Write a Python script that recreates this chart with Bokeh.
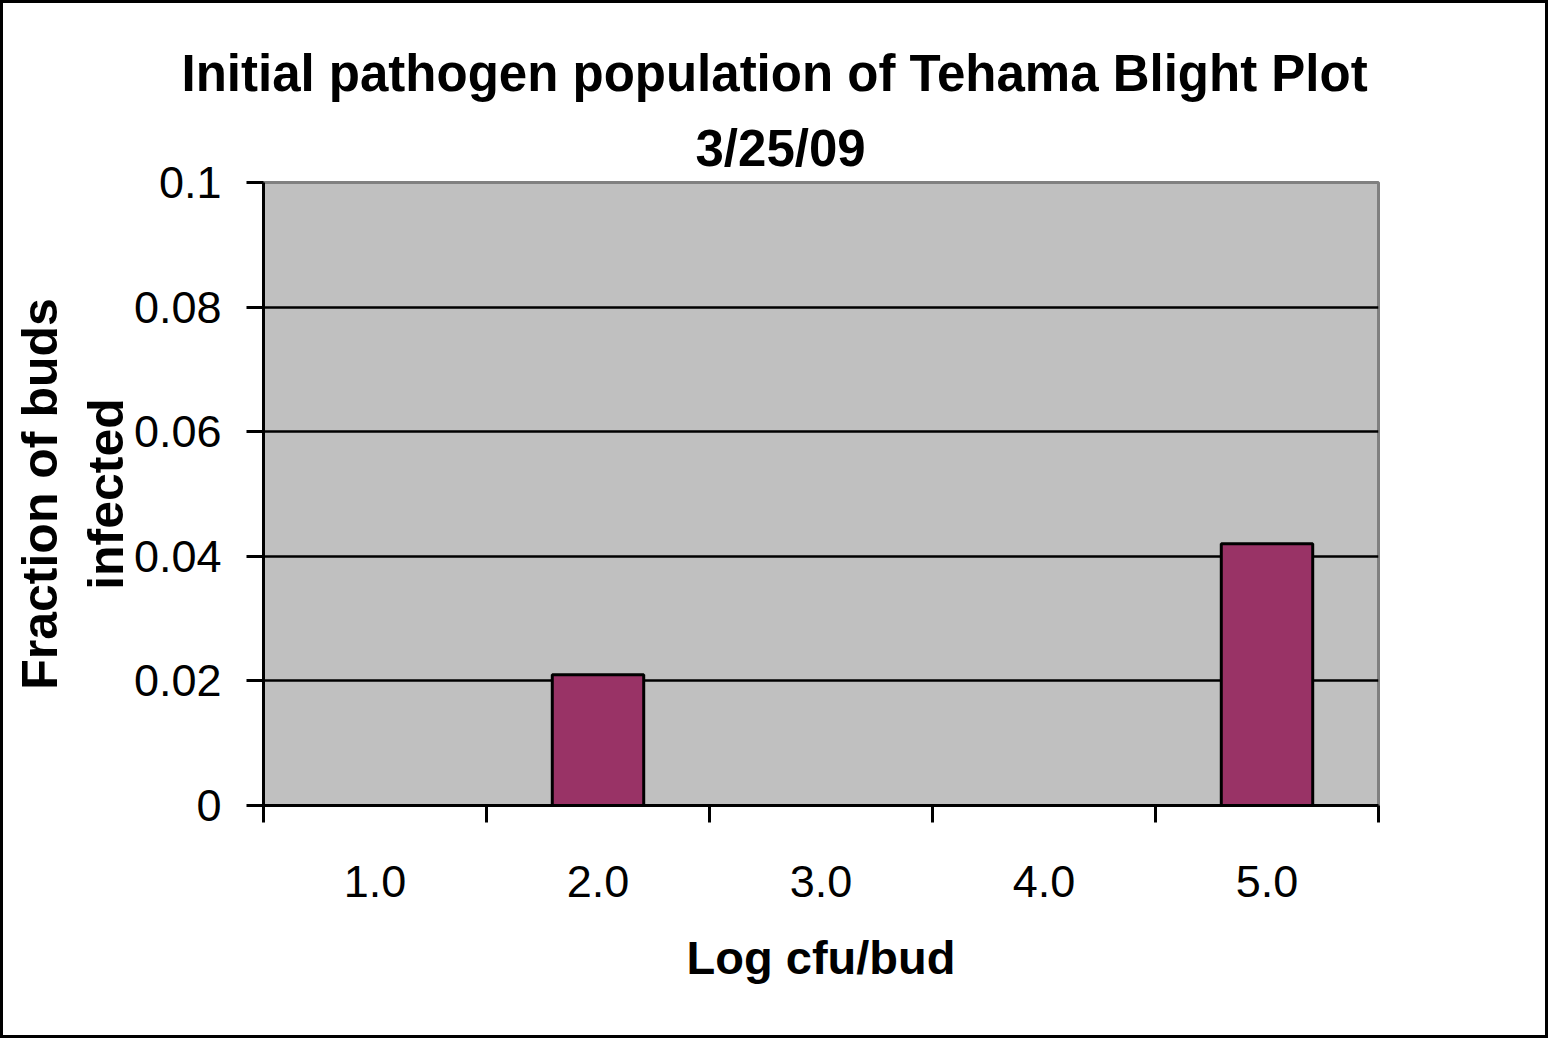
from bokeh.plotting import figure
from bokeh.models import Range1d, FixedTicker, Title
from bokeh.embed import file_html
from bokeh.resources import INLINE

# ---- data ----
categories = ["1.0", "2.0", "3.0", "4.0", "5.0"]
fraction_infected = [0.0, 0.021, 0.0, 0.0, 0.042]
y_ticks = [0.0, 0.02, 0.04, 0.06, 0.08, 0.1]
y_tick_labels = ["0", "0.02", "0.04", "0.06", "0.08", "0.1"]
title_line1 = "Initial pathogen population of Tehama Blight Plot"
title_line2 = "3/25/09"
x_title = "Log cfu/bud"
y_title = "Fraction of buds\ninfected"

FONT = "Liberation Sans"

W, H = 1548, 1038
FL, FR, FT, FB = 260, 1375, 179, 802  # frame edges in canvas px

xpos = list(range(1, len(categories) + 1))

p = figure(width=W, height=H, output_backend="svg", toolbar_location=None,
           title=None,
           x_range=Range1d(0.5, len(categories) + 0.5), y_range=Range1d(0, 0.1),
           min_border_left=FL, min_border_right=W - FR,
           min_border_top=FT, min_border_bottom=H - FB,
           styles={"border": "3px solid black"})

p.background_fill_color = "#C0C0C0"
p.border_fill_color = "white"
p.outline_line_color = "#808080"
p.outline_line_width = 3

# bars
p.vbar(x=xpos, top=fraction_infected, width=0.41, fill_color="#993366",
       line_color="black", line_width=3)

# grid
p.xgrid.visible = False
p.ygrid.ticker = FixedTicker(ticks=y_ticks[1:-1])
p.ygrid.grid_line_color = "black"
p.ygrid.grid_line_width = 2.5

# y axis
ya = p.yaxis[0]
ya.ticker = FixedTicker(ticks=y_ticks)
ya.major_label_overrides = {t: l for t, l in zip(y_ticks, y_tick_labels)}
ya.axis_line_color = "black"
ya.axis_line_width = 3
ya.major_tick_line_color = "black"
ya.major_tick_line_width = 3
ya.major_tick_out = 17
ya.major_tick_in = 0
ya.minor_tick_line_color = None
ya.major_label_standoff = 25
ya.major_label_text_font = FONT
ya.major_label_text_font_size = "45px"
ya.major_label_text_color = "black"
ya.axis_label = y_title
ya.axis_label_text_font = FONT
ya.axis_label_text_font_style = "bold"
ya.axis_label_text_font_size = "50px"
ya.axis_label_text_line_height = 1.18
ya.axis_label_text_color = "black"
ya.axis_label_standoff = -3

# x axis
xa = p.xaxis[0]
xa.ticker = FixedTicker(ticks=xpos, minor_ticks=[x - 0.5 for x in xpos] + [xpos[-1] + 0.5])
xa.major_label_overrides = {x: c for x, c in zip(xpos, categories)}
xa.axis_line_color = "black"
xa.axis_line_width = 3
xa.major_tick_line_color = None
xa.major_tick_out = 0
xa.major_tick_in = 0
xa.minor_tick_line_color = "black"
xa.minor_tick_line_width = 3
xa.minor_tick_out = 17
xa.minor_tick_in = 0
xa.major_label_standoff = 43
xa.major_label_text_font = FONT
xa.major_label_text_font_size = "45px"
xa.major_label_text_color = "black"
xa.axis_label = x_title
xa.axis_label_text_font = FONT
xa.axis_label_text_font_style = "bold"
xa.axis_label_text_font_size = "47px"
xa.axis_label_text_color = "black"
xa.axis_label_standoff = 31

# titles (first added sits closest to the plot)
p.add_layout(Title(text=title_line2, align="left", offset=432,
                   text_font=FONT, text_font_style="bold", text_font_size="51px",
                   text_color="black", standoff=12), "above")
p.add_layout(Title(text=title_line1, align="left", offset=-82,
                   text_font=FONT, text_font_style="bold", text_font_size="51px",
                   text_color="black", standoff=20), "above")

open("out.html", "w").write(file_html(p, INLINE))
